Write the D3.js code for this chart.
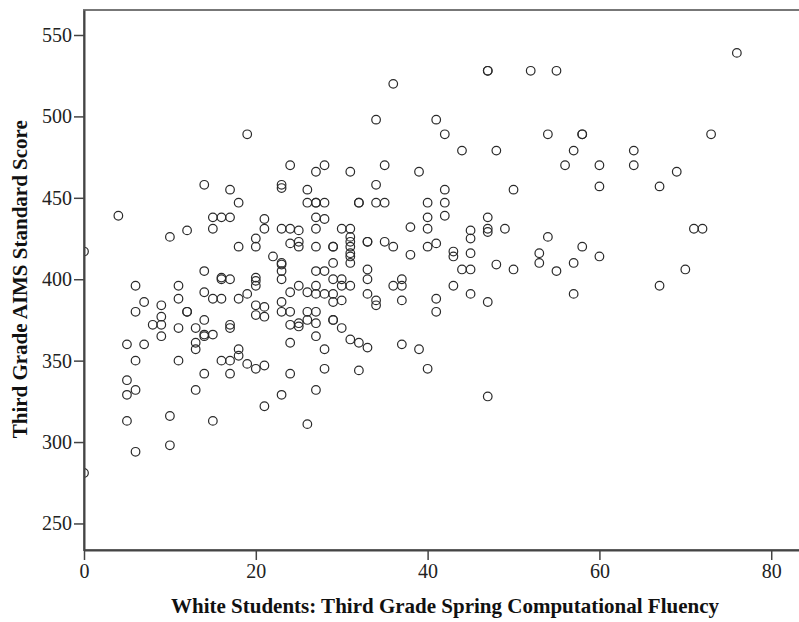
<!DOCTYPE html>
<html>
<head>
<meta charset="utf-8">
<script src="https://cdn.jsdelivr.net/npm/d3@7"></script>
<style>
  html, body { margin: 0; padding: 0; background: #fff; }
  svg { display: block; }
  .tick text { font-family: "Liberation Serif", "Times New Roman", serif; font-size: 20px; fill: #222; }
  .title { font-family: "Liberation Serif", "Times New Roman", serif; font-size: 21px; font-weight: bold; fill: #111; }
</style>
</head>
<body>
<svg id="chart" width="799" height="622"></svg>
<script>
// Third grade spring computational fluency (x) vs. AIMS standard score (y), one entry per student
const fluency = [
  0, 0,
  4,
  5, 5, 5, 5,
  6, 6, 6, 6, 6,
  7, 7,
  8,
  9, 9, 9, 9,
  10, 10, 10,
  11, 11, 11, 11,
  12, 12, 12,
  13, 13, 13, 13,
  14, 14, 14, 14, 14, 14, 14,
  15, 15, 15, 15, 15,
  16, 16, 16, 16, 16,
  17, 17, 17, 17, 17, 17, 17,
  18, 18, 18, 18, 18,
  19, 19, 19,
  20, 20, 20, 20, 20, 20, 20, 20,
  21, 21, 21, 21, 21, 21,
  22,
  23, 23, 23, 23, 23, 23, 23, 23, 23, 23,
  24, 24, 24, 24, 24, 24, 24, 24,
  25, 25, 25, 25, 25, 25,
  26, 26, 26, 26, 26, 26,
  27, 27, 27, 27, 27, 27, 27, 27, 27, 27, 27, 27, 27,
  28, 28, 28, 28, 28, 28, 28,
  29, 29, 29, 29, 29, 29, 29, 29,
  30, 30, 30, 30, 30,
  31, 31, 31, 31, 31, 31, 31, 31, 31, 31,
  32, 32, 32, 32,
  33, 33, 33, 33, 33, 33,
  34, 34, 34, 34, 34,
  35, 35, 35,
  36, 36, 36,
  37, 37, 37, 37,
  38, 38,
  39, 39,
  40, 40, 40, 40, 40,
  41, 41, 41, 41,
  42, 42, 42, 42,
  43, 43, 43,
  44, 44,
  45, 45, 45, 45, 45,
  47, 47, 47, 47, 47, 47, 47,
  48, 48,
  49,
  50, 50,
  52,
  53, 53,
  54, 54,
  55, 55,
  56,
  57, 57, 57,
  58, 58, 58,
  60, 60, 60,
  64, 64,
  67, 67,
  69,
  70,
  71,
  72,
  73,
  76
];
const aimsScore = [
  417, 281,
  439,
  360, 338, 329, 313,
  396, 380, 350, 332, 294,
  386, 360,
  372,
  384, 377, 372, 365,
  426, 316, 298,
  396, 388, 370, 350,
  430, 380, 380,
  370, 361, 357, 332,
  458, 405, 392, 375, 366, 365, 342,
  438, 431, 388, 366, 313,
  438, 401, 400, 388, 350,
  455, 438, 400, 372, 370, 350, 342,
  447, 420, 388, 357, 353,
  489, 391, 348,
  425, 420, 401, 399, 396, 384, 378, 345,
  437, 431, 383, 377, 347, 322,
  414,
  458, 456, 431, 410, 409, 405, 400, 386, 380, 329,
  470, 431, 422, 392, 380, 372, 361, 342,
  430, 423, 420, 396, 373, 371,
  455, 447, 392, 380, 375, 311,
  466, 447, 447, 438, 431, 420, 405, 396, 391, 380, 373, 365, 332,
  470, 447, 437, 405, 391, 357, 345,
  420, 420, 410, 400, 391, 386, 375, 375,
  431, 400, 396, 387, 370,
  466, 431, 426, 423, 420, 416, 414, 410, 396, 363,
  447, 447, 361, 344,
  423, 423, 406, 400, 391, 358,
  498, 458, 447, 387, 384,
  470, 447, 423,
  520, 420, 396,
  400, 396, 387, 360,
  432, 415,
  466, 357,
  447, 438, 431, 420, 345,
  498, 422, 388, 380,
  489, 455, 447, 439,
  417, 414, 396,
  479, 406,
  430, 425, 416, 406, 391,
  528, 528, 438, 431, 429, 386, 328,
  479, 409,
  431,
  455, 406,
  528,
  416, 410,
  489, 426,
  528, 405,
  470,
  479, 410, 391,
  489, 489, 420,
  470, 457, 414,
  479, 470,
  457, 396,
  466,
  406,
  431,
  431,
  489,
  539
];
const xTickValues = [0, 20, 40, 60, 80];
const yTickValues = [250, 300, 350, 400, 450, 500, 550];
const xTitle = "White Students: Third Grade Spring Computational Fluency";
const yTitle = "Third Grade AIMS Standard Score";

const plot = { left: 84, right: 800, top: 10, bottom: 550 };

const svg = d3.select("#chart");

const x = d3.scaleLinear().domain([0, 83.35]).range([plot.left, plot.right]);
const y = d3.scaleLinear().domain([233.7, 565.35]).range([plot.bottom, plot.top]);

// clip the markers to the plotting frame
svg.append("defs").append("clipPath").attr("id", "plotClip")
  .append("rect")
  .attr("x", plot.left).attr("y", plot.top)
  .attr("width", plot.right - plot.left).attr("height", plot.bottom - plot.top);

// frame around the plotting area
svg.append("rect")
  .attr("x", plot.left).attr("y", plot.top)
  .attr("width", plot.right - plot.left).attr("height", plot.bottom - plot.top)
  .attr("fill", "none").attr("stroke", "#777").attr("stroke-width", 2);

const points = fluency.map((f, i) => ({ f, s: aimsScore[i] }));

svg.append("g").attr("clip-path", "url(#plotClip)")
  .selectAll("circle").data(points).join("circle")
  .attr("cx", d => x(d.f))
  .attr("cy", d => y(d.s))
  .attr("r", 4.3)
  .attr("fill", "none")
  .attr("stroke", "#2a2a2a")
  .attr("stroke-width", 1.2);

// axes
const xAxis = d3.axisBottom(x).tickValues(xTickValues).tickSize(10).tickPadding(4).tickSizeOuter(0);
const yAxis = d3.axisLeft(y).tickValues(yTickValues).tickSize(10).tickPadding(2).tickSizeOuter(0);

const gx = svg.append("g").attr("transform", `translate(0,${plot.bottom})`).call(xAxis);
const gy = svg.append("g").attr("transform", `translate(${plot.left},0)`).call(yAxis);

[gx, gy].forEach(g => {
  g.select(".domain").attr("stroke", "#444").attr("stroke-width", 2);
  g.selectAll(".tick line").attr("stroke", "#444").attr("stroke-width", 1.5);
});

// axis titles
svg.append("text").attr("class", "title")
  .attr("x", 445).attr("y", 613)
  .attr("text-anchor", "middle")
  .text(xTitle);

svg.append("text").attr("class", "title")
  .attr("transform", `translate(27,${y(400)}) rotate(-90)`)
  .attr("text-anchor", "middle")
  .text(yTitle);
</script>
</body>
</html>
